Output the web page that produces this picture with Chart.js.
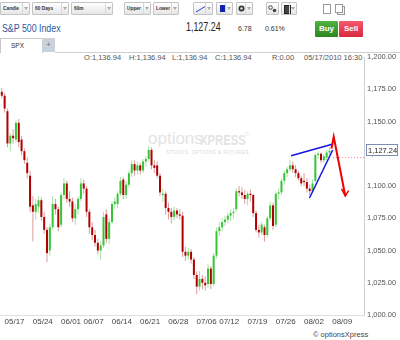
<!DOCTYPE html>
<html>
<head>
<meta charset="utf-8">
<script src="https://cdn.jsdelivr.net/npm/chart.js@4.4.0/dist/chart.umd.min.js"></script>
<style>
body{margin:0;background:#fff;width:400px;height:340px;overflow:hidden;position:relative;font-family:"Liberation Sans",Arial,sans-serif}
.a{position:absolute;white-space:nowrap}
.dd{position:absolute;top:2px;height:11px;border:1px solid #c4c4c4;border-radius:1px;background:linear-gradient(#fff,#e6e6e6);font:bold 6px "Liberation Sans",Arial;color:#333;line-height:11px}
.dd .t{position:absolute;left:2px;top:0;transform:scaleX(0.8);transform-origin:left top}
.dd .ar{position:absolute;right:0;top:0;width:6px;height:11px;border-left:1px solid #d8d8d8}
.dd .ar:after{content:"";position:absolute;left:1px;top:4px;border-left:2px solid transparent;border-right:2px solid transparent;border-top:3px solid #aaa}
.info{position:absolute;top:53px;font-size:7.5px;color:#555}
#wrap{position:absolute;left:0;top:40px;width:400px;height:300px;z-index:1}
</style>
</head>
<body>
<!-- toolbar -->
<div class="dd" style="left:0;width:28px"><span class="t">Candle</span><span class="ar"></span></div>
<div class="dd" style="left:32px;width:35px"><span class="t">60 Days</span><span class="ar"></span></div>
<div class="dd" style="left:71px;width:40px"><span class="t">60m</span><span class="ar"></span></div>
<div class="dd" style="left:124px;width:25px"><span class="t">Upper</span><span class="ar"></span></div>
<div class="dd" style="left:153px;width:24px"><span class="t">Lower</span><span class="ar"></span></div>
<div class="dd" style="left:193px;width:18px"><svg class="a" style="left:2px;top:2px" width="10" height="8"><line x1="0" y1="7" x2="10" y2="1" stroke="#3040d0" stroke-width="1"/></svg><span class="ar"></span></div>
<div class="dd" style="left:216px;width:15px"><span class="a" style="left:3px;top:2px;width:5px;height:7px;background:#1020b0"></span><span class="ar"></span></div>
<div class="dd" style="left:236px;width:15px"><svg class="a" style="left:1px;top:2px" width="7" height="7"><circle cx="3.5" cy="3.5" r="3" fill="#333"/><circle cx="3.5" cy="3.5" r="1.3" fill="#ddd"/></svg><span class="ar"></span></div>
<div class="dd" style="left:266px;width:11px"><svg class="a" style="left:1px;top:2px" width="9" height="8"><circle cx="2.5" cy="2.5" r="1.8" fill="none" stroke="#444"/><circle cx="6.5" cy="5.5" r="1.8" fill="#444"/></svg></div>
<div class="dd" style="left:281px;width:14px"><span class="a" style="left:2px;top:2px;width:5px;height:7px;background:#444;border:1px solid #222"></span><span class="ar"></span></div>
<div class="a" style="left:323px;top:4px;width:6px;height:8px;border:1px solid #999;background:#fff"></div>
<div class="a" style="left:337px;top:6px;width:6px;height:7px;border:1px solid #999;background:#f4f4f4"></div>
<div class="a" style="left:335px;top:4px;width:6px;height:7px;border:1px solid #999;background:#fff"></div>

<!-- quote line -->
<div class="a" style="left:2px;top:22px;font-size:11px;color:#2b58a0;transform:scaleX(0.8);transform-origin:left top">S&amp;P 500 Index</div>
<div class="a" style="left:186px;top:20px;font-size:12px;color:#222;transform:scaleX(0.74);transform-origin:left top">1,127.24</div>
<div class="a" style="left:238px;top:25px;font-size:7px;color:#333">6.78</div>
<div class="a" style="left:265px;top:25px;font-size:7px;color:#333">0.61%</div>
<div class="a" style="left:315px;top:21px;width:23px;height:16px;line-height:16px;text-align:center;background:linear-gradient(#52b340,#2c8620);color:#fff;font-size:8px;font-weight:bold;border-radius:1px">Buy</div>
<div class="a" style="left:339px;top:21px;width:24px;height:16px;line-height:16px;text-align:center;background:linear-gradient(#f4596c,#d8283e);color:#fff;font-size:8px;font-weight:bold;border-radius:1px">Sell</div>

<!-- tabs -->
<div class="a" style="left:0;top:38px;width:41px;height:14px;border:1px solid #c8c8c8;border-bottom:none;background:#fff"><span class="a" style="left:10px;top:3px;font-size:6.5px;color:#333">SPX</span></div>
<div class="a" style="left:42px;top:38px;width:13px;height:14px;background:#c9d1db;font-size:7px;color:#666;text-align:center;line-height:14px">+</div>
<div class="a" style="left:55px;top:52px;width:345px;height:1px;background:#cfcfcf"></div>

<!-- hovered bar info -->
<div class="info" style="left:84px">O:1,136.94</div>
<div class="info" style="left:129px">H:1,136.94</div>
<div class="info" style="left:172px">L:1,136.94</div>
<div class="info" style="left:215px">C:1,136.94</div>
<div class="info" style="left:272px">R:0.00</div>
<div class="info" style="left:304px">05/17/2010 16:30</div>

<!-- watermark -->
<div class="a" style="left:148px;top:129px;font-size:17px;color:#e4e4e4">options</div>
<div class="a" style="left:200px;top:131px;font-size:15px;font-weight:bold;color:#e4e4e4;transform:scaleX(0.75);transform-origin:left top">XPRESS</div>
<div class="a" style="left:245px;top:131px;font-size:6px;color:#e4e4e4">&copy;</div>
<div class="a" style="left:166px;top:149px;font-size:5px;letter-spacing:0.3px;color:#dadada">STOCKS, OPTIONS &amp; FUTURES</div>

<div id="wrap"><canvas id="myChart"></canvas></div>
<div class="a" style="left:313px;top:330px;font-size:7.5px;color:#444">&copy; optionsXpress</div>

<script>
// trading days on the x axis: 05/12 = 0, one unit per session day
const tickDays = [3, 8, 13, 17, 22, 27, 32, 37, 41, 46, 51, 56, 61]
const tickLabels = ['05/17','05/24','06/01','06/07','06/14','06/21','06/28','07/06','07/12','07/19','07/26','08/02','08/09']

// two half-day candles per day, first one is the 05/12 afternoon
const open = [1173,1170,1158,1133,1139,1136,1149,1136,1127,1118,
  1108,1085,1080,1084,1089,1076,1066,1050,1068,1086,
  1082,1070,1093,1102,1090,1088,1075,1082,1090,1102,
  1098,1080,1068,1062,1056,1050,1054,1078,1059,1072,
  1086,1086,1094,1105,1093,1101,1110,1117,1112,1116,
  1112,1119,1121,1128,1116,1116,1108,1093,1094,1083,
  1080,1076,1081,1078,1077,1049,1046,1049,1043,1031,
  1022,1028,1025,1024,1036,1024,1046,1065,1068,1072,
  1074,1077,1079,1082,1096,1095,1093,1090,1094,1093,
  1079,1066,1064,1068,1062,1075,1085,1070,1094,1095,
  1104,1110,1113,1116,1113,1110,1106,1104,1103,1098,
  1096,1104,1124,1125,1120,1122,1126]
const high = [1176,1172,1160,1141,1144,1151,1152,1139,1129,1122,
  1112,1092,1090,1092,1091,1080,1068,1071,1092,1090,
  1084,1095,1106,1104,1096,1091,1086,1092,1106,1105,
  1100,1082,1072,1066,1059,1057,1080,1082,1075,1088,
  1091,1096,1107,1107,1104,1112,1120,1120,1119,1118,
  1121,1123,1131,1130,1120,1119,1110,1098,1096,1087,
  1083,1084,1083,1082,1080,1053,1052,1051,1045,1034,
  1034,1031,1030,1040,1038,1048,1068,1072,1075,1077,
  1079,1082,1083,1098,1100,1099,1097,1096,1097,1094,
  1081,1070,1072,1070,1077,1088,1087,1096,1098,1106,
  1112,1115,1120,1119,1116,1112,1108,1110,1106,1101,
  1105,1126,1127,1126,1125,1128,1130]
const low = [1168,1157,1130,1127,1133,1134,1130,1124,1117,1106,
  1080,1057,1074,1079,1073,1063,1041,1046,1066,1078,
  1065,1068,1090,1087,1084,1072,1070,1078,1088,1094,
  1076,1063,1058,1053,1047,1043,1052,1056,1055,1070,
  1082,1083,1092,1090,1090,1099,1107,1108,1109,1109,
  1110,1115,1119,1113,1110,1106,1092,1088,1078,1074,
  1071,1073,1075,1074,1045,1042,1043,1040,1028,1016,
  1019,1020,1019,1021,1020,1022,1044,1061,1065,1069,
  1071,1073,1075,1080,1092,1090,1086,1085,1088,1076,
  1064,1060,1062,1057,1060,1073,1066,1068,1090,1093,
  1101,1107,1111,1110,1107,1104,1100,1100,1095,1093,
  1095,1103,1121,1118,1118,1120,1124]
const close = [1170,1160,1133,1139,1137,1149,1134,1127,1120,1110,
  1084,1080,1086,1089,1076,1066,1048,1068,1086,1082,
  1068,1093,1102,1090,1088,1075,1082,1090,1102,1098,
  1080,1068,1062,1056,1050,1054,1076,1059,1072,1086,
  1088,1094,1104,1093,1101,1110,1117,1112,1116,1112,
  1119,1121,1128,1116,1114,1108,1095,1094,1083,1080,
  1076,1081,1078,1077,1049,1046,1049,1043,1031,1022,
  1028,1025,1023,1036,1024,1046,1065,1068,1072,1074,
  1077,1079,1080,1096,1095,1093,1090,1094,1093,1079,
  1066,1064,1070,1062,1075,1085,1069,1094,1095,1104,
  1110,1113,1116,1113,1110,1106,1102,1103,1098,1096,
  1102,1124,1125,1120,1123,1126,1127.24]

const lastPrice = 1127.24
const prevLevel = 1122

// hand drawn trend lines + arrow (day, price)
const upperTrend = [{x: 51.95, y: 1123.5}, {x: 59.37, y: 1132.5}]
const lowerTrend = [{x: 55.21, y: 1090.7}, {x: 59.32, y: 1127.9}]
const arrowPath = [{x: 59.1, y: 1129}, {x: 59.5, y: 1138.2}, {x: 61.55, y: 1092.2}]
const arrowHead = [{x: 60.88, y: 1097.7}, {x: 61.55, y: 1092.2}, {x: 62.12, y: 1096.5}]

const xMin = 0.43
const xMax = 64.86

function sessionX(i){
    return 0.75 + i * 0.5
}

const wickData = close.map((c, i) => ({x: sessionX(i), y: [low[i], high[i]]}))
const bodyData = close.map((c, i) => ({x: sessionX(i), y: [open[i], c]}))
const isUp = close.map((c, i) => c >= open[i])

const priceBox = {
    id: 'priceBox',
    afterDraw(chart){
        const ctx = chart.ctx
        const y = Math.round(chart.scales.y.getPixelForValue(lastPrice)) - 1
        const x = chart.chartArea.right + 2
        ctx.save()
        ctx.fillStyle = '#fff'
        ctx.fillRect(x, y - 6, 32, 12)
        ctx.strokeStyle = '#7d8cb0'
        ctx.lineWidth = 1
        ctx.strokeRect(x + 0.5, y - 5.5, 31, 11)
        ctx.fillStyle = '#222'
        ctx.font = '7.5px "Liberation Sans", Arial'
        ctx.textBaseline = 'middle'
        ctx.fillText('1,127.24', x + 2, y + 0.5)
        ctx.restore()
    }
}

const config = {
    type: 'bar',
    data: {
        datasets: [
            {data: wickData, backgroundColor: isUp.map(u => u ? '#a3e4a3' : '#dc9c9c'), barThickness: 1, grouped: false, inflateAmount: 0, order: 3},
            {data: bodyData, backgroundColor: isUp.map(u => u ? '#38c438' : '#b00000'), barThickness: 2, grouped: false, inflateAmount: 0, order: 2},
            {type: 'line', data: [{x: upperTrend[1].x, y: prevLevel}, {x: xMax, y: prevLevel}], borderColor: '#f08a8a', borderWidth: 1, borderDash: [1, 2], pointRadius: 0, order: 1},
            {type: 'line', data: upperTrend, borderColor: '#1414e6', borderWidth: 1.5, pointRadius: 0, order: 1},
            {type: 'line', data: lowerTrend, borderColor: '#1414e6', borderWidth: 1.5, pointRadius: 0, order: 1},
            {type: 'line', data: arrowPath, borderColor: '#f00000', borderWidth: 2, pointRadius: 0, order: 0},
            {type: 'line', data: arrowHead, borderColor: '#f00000', borderWidth: 1.5, pointRadius: 0, order: 0}
        ]
    },
    options: {
        animation: false,
        responsive: true,
        maintainAspectRatio: false,
        layout: {padding: {top: 17, left: 0, right: 0, bottom: 0}},
        plugins: {legend: {display: false}, tooltip: {enabled: false}},
        scales: {
            x: {
                type: 'linear',
                min: xMin,
                max: xMax,
                offset: false,
                grid: {display: false, drawTicks: false},
                border: {color: '#dedede'},
                afterBuildTicks: s => { s.ticks = tickDays.map(v => ({value: v})) },
                afterFit: s => { s.height = 25 },
                ticks: {
                    autoSkip: false, maxRotation: 0, padding: 2, color: '#444',
                    font: {size: 8, family: '"Liberation Sans", Arial'},
                    callback: (v, i) => tickLabels[i]
                }
            },
            y: {
                position: 'right',
                min: 1000,
                max: 1200,
                grid: {display: false, drawTicks: false},
                border: {color: '#d0d0d0'},
                afterFit: s => { s.width = 36 },
                ticks: {
                    stepSize: 25, padding: 3, color: '#555',
                    font: {size: 7.5, family: '"Liberation Sans", Arial'},
                    callback: v => v.toLocaleString('en-US', {minimumFractionDigits: 2, maximumFractionDigits: 2})
                }
            }
        }
    },
    plugins: [priceBox]
}

let myChart = new Chart(document.getElementById('myChart'), config)
</script>
</body>
</html>
